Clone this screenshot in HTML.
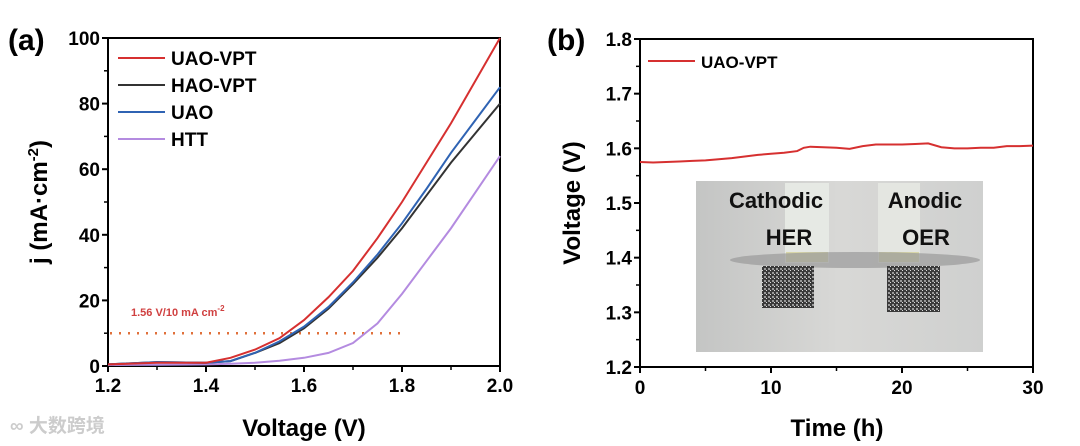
<!DOCTYPE html>
<html><head><meta charset="utf-8"><style>
body{margin:0;background:#fff;}
svg{display:block;font-family:"Liberation Sans",Arial,sans-serif;font-weight:bold;}
</style></head><body>
<svg id="fig" width="1080" height="446" viewBox="0 0 1080 446">
<defs>
<linearGradient id="bg" x1="0" y1="0" x2="1" y2="0"><stop offset="0" stop-color="#c4c5c4"/><stop offset="0.5" stop-color="#d8d8d6"/><stop offset="1" stop-color="#cfd0cf"/></linearGradient>
<pattern id="mesh" width="4" height="4" patternUnits="userSpaceOnUse"><rect width="4" height="4" fill="#3a3a3a"/><rect width="2" height="2" fill="#9a9a9a"/><rect x="2" y="2" width="1" height="1" fill="#ddd"/></pattern>
</defs>
<g id="pa"></g>
<g id="pb"></g>
<text x="10" y="432" font-size="19" fill="#ccc" font-family="'Liberation Sans','Noto Sans CJK SC',sans-serif">∞ 大数跨境</text>
</svg>
<script>
// Panel A data
const aV=[1.2,1.3,1.4,1.45,1.5,1.55,1.6,1.65,1.7,1.75,1.8,1.85,1.9,1.95,2.0];
const aRed=[0.5,1,1,2.5,5,8.5,14,21,29,39,50,62,74,87,100];
const aBlack=[0.5,1.2,1,1.5,4,7,11.5,17.5,25,33,42,52,62,71,80];
const aBlue=[0.5,1.2,1,1.5,4,7.5,12,18,25.5,34,43.5,54,65,75,85];
const aPurple=[0.3,0.4,0.5,0.7,1,1.6,2.5,4,7,13,22,32,42,53,64];
const aXTicks=[1.2,1.4,1.6,1.8,2.0];
const aYTicks=[0,20,40,60,80,100];
// Panel B data
const bT=[0,1,2,3,4,5,6,7,8,9,10,11,12,12.5,13,14,15,16,17,18,19,20,21,22,23,24,25,26,27,28,29,30];
const bV=[1.575,1.574,1.575,1.576,1.577,1.578,1.580,1.582,1.585,1.588,1.590,1.592,1.595,1.601,1.603,1.602,1.601,1.599,1.604,1.607,1.607,1.607,1.608,1.609,1.602,1.600,1.600,1.601,1.601,1.604,1.604,1.605];
const bXTicks=[0,10,20,30];
const bYTicks=[1.2,1.3,1.4,1.5,1.6,1.7,1.8];

const NS="http://www.w3.org/2000/svg";
function mk(p,t,a,txt){const e=document.createElementNS(NS,t);for(const k in a)e.setAttribute(k,a[k]);if(txt!==undefined)e.textContent=txt;p.appendChild(e);return e;}

// ---- Panel A
const A=document.getElementById('pa');
const ax=v=>108+(v-1.2)/0.8*392, ay=v=>366-v/100*328;
mk(A,'text',{x:8,y:50,'font-size':30,},'(a)');
mk(A,'rect',{x:108,y:38,width:392,height:328,fill:'none',stroke:'#000','stroke-width':2,});
aXTicks.forEach(t=>{const x=ax(t);mk(A,'line',{x1:x,x2:x,y1:366,y2:372,stroke:'#000','stroke-width':2});
 const l=mk(A,'text',{x:x,y:392,'font-size':19,'text-anchor':'middle'},t.toFixed(1));
 
 });
for(let v=1.3;v<2;v+=0.2){const x=ax(v);mk(A,'line',{x1:x,x2:x,y1:366,y2:370,stroke:'#000','stroke-width':1.5});}
aYTicks.forEach(t=>{const y=ay(t);mk(A,'line',{x1:102,x2:108,y1:y,y2:y,stroke:'#000','stroke-width':2});
 const l=mk(A,'text',{x:100,y:y+7,'font-size':19,'text-anchor':'end'},t);
 
 });
for(let v=10;v<100;v+=20){const y=ay(v);mk(A,'line',{x1:104,x2:108,y1:y,y2:y,stroke:'#000','stroke-width':1.5});}
mk(A,'text',{x:304,y:436,'font-size':24,'text-anchor':'middle',},'Voltage (V)');
const yt=mk(A,'text',{transform:'translate(47,202) rotate(-90)','font-size':24,'text-anchor':'middle',},'j (mA·cm');
mk(yt,'tspan',{dy:-9,'font-size':15},'-2');mk(yt,'tspan',{dy:9},')');
mk(A,'line',{x1:110,x2:400,y1:ay(10),y2:ay(10),stroke:'#e0703a','stroke-width':2.5,'stroke-dasharray':'2 7',});
const an=mk(A,'text',{x:131,y:316,'font-size':11,fill:'#d04040',},'1.56 V/10 mA cm');
mk(an,'tspan',{dy:-5,'font-size':8},'-2');
const series=[['HTT',aPurple,'#b48be0'],['HAO-VPT',aBlack,'#333'],['UAO',aBlue,'#2f63b3'],['UAO-VPT',aRed,'#d63030']];
series.forEach(([n,d,c])=>{const p=mk(A,'polyline',{points:aV.map((v,i)=>ax(v)+','+ay(d[i])).join(' '),fill:'none',stroke:c,'stroke-width':2});
 
 });
[['UAO-VPT','#d63030'],['HAO-VPT','#333'],['UAO','#2f63b3'],['HTT','#b48be0']].forEach(([n,c],i)=>{const y=58+i*27;
 const g=mk(A,'g',{});
 mk(g,'line',{x1:118,x2:165,y1:y,y2:y,stroke:c,'stroke-width':2});
 mk(g,'text',{x:171,y:y+7,'font-size':19},n);});

// ---- Panel B
const B=document.getElementById('pb');
const bx=v=>640+v/30*393, by=v=>367-(v-1.2)/0.6*328;
mk(B,'text',{x:547,y:50,'font-size':30,},'(b)');
// inset photo
const ph=mk(B,'g',{});
mk(ph,'rect',{x:696,y:181,width:287,height:171,fill:'url(#bg)'});
mk(ph,'rect',{x:785,y:183,width:44,height:80,fill:'#e8ebe6',opacity:0.9});
mk(ph,'rect',{x:878,y:183,width:42,height:80,fill:'#e6e8e2',opacity:0.9});
mk(ph,'rect',{x:786,y:252,width:42,height:10,fill:'#d8d6a8'});
mk(ph,'rect',{x:879,y:252,width:40,height:10,fill:'#d8d6a8'});
mk(ph,'ellipse',{cx:855,cy:260,rx:125,ry:8,fill:'#9a9a9a',opacity:0.7});
mk(ph,'rect',{x:762,y:266,width:52,height:42,fill:'url(#mesh)'});
mk(ph,'rect',{x:887,y:266,width:53,height:46,fill:'url(#mesh)'});
[['Cathodic',776,208],['HER',789,245],['Anodic',925,208],['OER',926,245]].forEach(([t,x,y])=>mk(ph,'text',{x:x,y:y,'font-size':22,'text-anchor':'middle',fill:'#111'},t));
mk(B,'rect',{x:640,y:39,width:393,height:328,fill:'none',stroke:'#000','stroke-width':2,});
bXTicks.forEach(t=>{const x=bx(t);mk(B,'line',{x1:x,x2:x,y1:367,y2:373,stroke:'#000','stroke-width':2});
 const l=mk(B,'text',{x:x,y:394,'font-size':19,'text-anchor':'middle'},t);
 
 });
[5,15,25].forEach(v=>{const x=bx(v);mk(B,'line',{x1:x,x2:x,y1:367,y2:371,stroke:'#000','stroke-width':1.5});});
bYTicks.forEach(t=>{const y=by(t);mk(B,'line',{x1:634,x2:640,y1:y,y2:y,stroke:'#000','stroke-width':2});
 const l=mk(B,'text',{x:632,y:y+7,'font-size':19,'text-anchor':'end'},t.toFixed(1));
 
 });
for(let v=1.25;v<1.8;v+=0.1){const y=by(v);mk(B,'line',{x1:636,x2:640,y1:y,y2:y,stroke:'#000','stroke-width':1.5});}
mk(B,'text',{x:837,y:436,'font-size':24,'text-anchor':'middle',},'Time (h)');
mk(B,'text',{transform:'translate(580,203) rotate(-90)','font-size':24,'text-anchor':'middle',},'Voltage (V)');
const bl=mk(B,'polyline',{points:bT.map((t,i)=>bx(t)+','+by(bV[i])).join(' '),fill:'none',stroke:'#d63030','stroke-width':2});


const lg=mk(B,'g',{});
mk(lg,'line',{x1:648,x2:695,y1:61,y2:61,stroke:'#d63030','stroke-width':2});
mk(lg,'text',{x:701,y:68,'font-size':17},'UAO-VPT');
</script>
</body></html>
